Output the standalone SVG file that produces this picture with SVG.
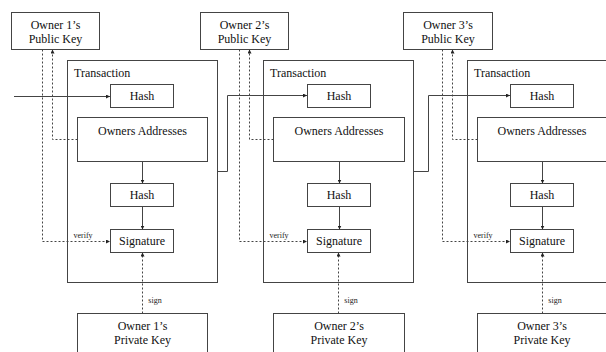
<svg xmlns="http://www.w3.org/2000/svg" width="606" height="352" viewBox="0 0 606 352">
<defs>
<style>
.box{fill:#fff;stroke:#444;stroke-width:1}
.tx{fill:none;stroke:#444;stroke-width:1}
.t{font-family:"Liberation Serif","Times New Roman",serif;font-size:12px;fill:#111;text-anchor:middle}
.tl{font-family:"Liberation Serif","Times New Roman",serif;font-size:12px;fill:#111}
.s{font-family:"Liberation Serif","Times New Roman",serif;font-size:8px;fill:#222;text-anchor:middle}
.solid{fill:none;stroke:#444;stroke-width:1}
.dash{fill:none;stroke:#444;stroke-width:1;stroke-dasharray:2,2}
</style>
<marker id="ah" viewBox="0 0 6 6" refX="6" refY="3" markerWidth="4" markerHeight="4" orient="auto" markerUnits="userSpaceOnUse">
<path d="M0,0 L6,3 L0,6 z" fill="#222"/>
</marker>
</defs>
<rect width="606" height="352" fill="#fff"/>

<!-- Panel 1 -->
<g id="pub1"><rect class="box" x="11.5" y="12.5" width="88" height="37"/><text class="t" x="55.5" y="29">Owner 1’s</text><text class="t" x="55.5" y="43">Public Key</text></g>
<g id="tx1"><rect class="tx" x="67.5" y="60.5" width="150" height="222"/><text class="tl" x="74" y="77">Transaction</text></g>
<g id="hashA1"><rect class="box" x="110.5" y="84.5" width="63" height="23"/><text class="t" x="142" y="100">Hash</text></g>
<g id="oa1"><rect class="box" x="77.5" y="117.5" width="130" height="44"/><text class="t" x="142.5" y="135">Owners Addresses</text></g>
<g id="hashB1"><rect class="box" x="110.5" y="183.5" width="63" height="23"/><text class="t" x="142" y="199">Hash</text></g>
<g id="sig1"><rect class="box" x="110.5" y="229.5" width="63" height="23"/><text class="t" x="142" y="245">Signature</text></g>
<g id="priv1"><rect class="box" x="77.5" y="313.5" width="130" height="45"/><text class="t" x="142.5" y="330">Owner 1’s</text><text class="t" x="142.5" y="344">Private Key</text></g>

<!-- Panel 2 -->
<g id="pub2"><rect class="box" x="200.5" y="12.5" width="88" height="37"/><text class="t" x="244.5" y="29">Owner 2’s</text><text class="t" x="244.5" y="43">Public Key</text></g>
<g id="tx2"><rect class="tx" x="263.5" y="60.5" width="150" height="222"/><text class="tl" x="270" y="77">Transaction</text></g>
<g id="hashA2"><rect class="box" x="307.5" y="84.5" width="63" height="23"/><text class="t" x="339" y="100">Hash</text></g>
<g id="oa2"><rect class="box" x="273.5" y="117.5" width="131" height="44"/><text class="t" x="339" y="135">Owners Addresses</text></g>
<g id="hashB2"><rect class="box" x="307.5" y="183.5" width="63" height="23"/><text class="t" x="339" y="199">Hash</text></g>
<g id="sig2"><rect class="box" x="307.5" y="229.5" width="63" height="23"/><text class="t" x="339" y="245">Signature</text></g>
<g id="priv2"><rect class="box" x="273.5" y="313.5" width="131" height="45"/><text class="t" x="339" y="330">Owner 2’s</text><text class="t" x="339" y="344">Private Key</text></g>

<!-- Panel 3 -->
<g id="pub3"><rect class="box" x="403.5" y="12.5" width="89" height="37"/><text class="t" x="448" y="29">Owner 3’s</text><text class="t" x="448" y="43">Public Key</text></g>
<g id="tx3"><rect class="tx" x="467.5" y="60.5" width="150" height="222"/><text class="tl" x="474" y="77">Transaction</text></g>
<g id="hashA3"><rect class="box" x="510.5" y="84.5" width="63" height="23"/><text class="t" x="542" y="100">Hash</text></g>
<g id="oa3"><rect class="box" x="477.5" y="117.5" width="140" height="44"/><text class="t" x="542" y="135">Owners Addresses</text></g>
<g id="hashB3"><rect class="box" x="510.5" y="183.5" width="63" height="23"/><text class="t" x="542" y="199">Hash</text></g>
<g id="sig3"><rect class="box" x="510.5" y="229.5" width="63" height="23"/><text class="t" x="542" y="245">Signature</text></g>
<g id="priv3"><rect class="box" x="477.5" y="313.5" width="140" height="45"/><text class="t" x="542" y="330">Owner 3’s</text><text class="t" x="542" y="344">Private Key</text></g>

<g id="connectors">
<!-- panel 1 -->
<path class="solid" d="M14,96.5 H110" marker-end="url(#ah)"/>
<path class="solid" d="M142.5,161.5 V183.5" marker-end="url(#ah)"/>
<path class="solid" d="M142.5,206.5 V229.5" marker-end="url(#ah)"/>
<path class="dash" d="M77.5,139.5 H52.5 V49.5" marker-end="url(#ah)"/>
<path class="dash" d="M42.5,49.5 V241.5 H110" marker-end="url(#ah)"/>
<path class="dash" d="M142.5,313.5 V252.5" marker-end="url(#ah)"/>
<text class="s" x="83" y="238">verify</text>
<text class="s" x="155" y="303">sign</text>
<!-- panel 2 -->
<path class="solid" d="M217.5,171.5 H227.5 V95.5 H307" marker-end="url(#ah)"/>
<path class="solid" d="M339.5,161.5 V183.5" marker-end="url(#ah)"/>
<path class="solid" d="M339.5,206.5 V229.5" marker-end="url(#ah)"/>
<path class="dash" d="M273.5,139.5 H249.5 V49.5" marker-end="url(#ah)"/>
<path class="dash" d="M239.5,49.5 V241.5 H307" marker-end="url(#ah)"/>
<path class="dash" d="M338.5,313.5 V252.5" marker-end="url(#ah)"/>
<text class="s" x="279" y="238">verify</text>
<text class="s" x="351" y="303">sign</text>
<!-- panel 3 -->
<path class="solid" d="M413.5,171.5 H428.5 V95.5 H510" marker-end="url(#ah)"/>
<path class="solid" d="M542.5,161.5 V183.5" marker-end="url(#ah)"/>
<path class="solid" d="M542.5,206.5 V229.5" marker-end="url(#ah)"/>
<path class="dash" d="M477.5,139.5 H452.5 V49.5" marker-end="url(#ah)"/>
<path class="dash" d="M442.5,49.5 V241.5 H510" marker-end="url(#ah)"/>
<path class="dash" d="M542.5,313.5 V252.5" marker-end="url(#ah)"/>
<text class="s" x="483" y="238">verify</text>
<text class="s" x="555" y="303">sign</text>
</g>
</svg>
